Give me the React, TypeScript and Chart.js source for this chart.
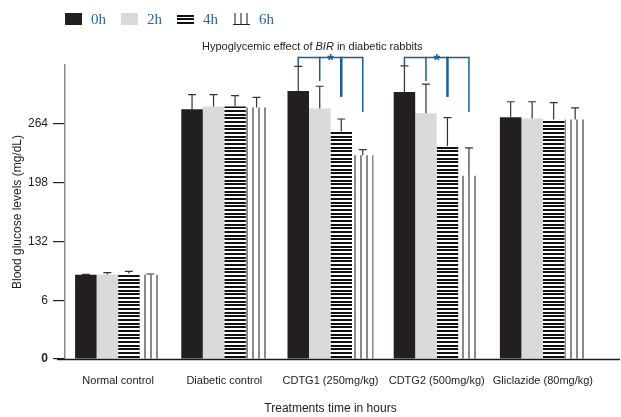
import React, { useEffect, useRef } from "react";
import { Chart, registerables } from "chart.js";

Chart.register(...registerables);

// Treatment groups along the x axis
const groups = [
  "Normal control",
  "Diabetic control",
  "CDTG1 (250mg/kg)",
  "CDTG2 (500mg/kg)",
  "Gliclazide (80mg/kg)",
];

// Sampling times (series)
const times = ["0h", "2h", "4h", "6h"];

// Mean blood glucose (mg/dL) per group, one array per sampling time
const glucose0h = [95, 282, 302.5, 301.5, 273];
const glucose2h = [95.5, 285, 283, 277.5, 271.5];
const glucose4h = [96.5, 285, 257, 240.5, 270.5];
const glucose6h = [95, 284, 230, 207, 270.5];

// Standard deviations for the error bars
const sd0h = [0.5, 16.5, 28, 29.5, 17.5];
const sd2h = [2, 13.5, 25, 33, 19];
const sd4h = [2.5, 12.5, 14, 32, 19];
const sd6h = [1, 11.5, 6.5, 31.5, 13];

// Y axis tick labels as printed on the axis
const yTickLabels = ["0", "6", "132", "198", "264"];

// Groups marked as significant (index into groups)
const significantGroups = [2, 3];
// Bracket top level and the level each drop line reaches, per time point
const bracketTop = 340.5;
const bracketDrops = [331, 314, 296, 279];

const titleParts = [
  { text: "Hypoglycemic effect of ", italic: false },
  { text: "BIR", italic: true },
  { text: " in diabetic rabbits", italic: false },
];

const SANS = "'Liberation Sans', Arial, Helvetica, sans-serif";
const SERIF = "'Liberation Serif', 'Times New Roman', serif";
const BLUE = "#1c5e99";

function makeHStripes(): CanvasPattern | string {
  const c = document.createElement("canvas");
  c.width = 4;
  c.height = 11;
  const g = c.getContext("2d");
  if (!g) return "#000";
  g.fillStyle = "#ffffff";
  g.fillRect(0, 0, 4, 11);
  g.fillStyle = "#111111";
  g.fillRect(0, 0, 4, 2);
  g.fillRect(0, 4, 4, 2);
  g.fillRect(0, 7, 4, 2);
  return g.createPattern(c, "repeat") || "#000";
}

function makeVLines(): CanvasPattern | string {
  const c = document.createElement("canvas");
  c.width = 6;
  c.height = 4;
  const g = c.getContext("2d");
  if (!g) return "#888";
  g.fillStyle = "#ffffff";
  g.fillRect(0, 0, 6, 4);
  g.fillStyle = "#8a8a8a";
  g.fillRect(0, 0, 2, 4);
  return g.createPattern(c, "repeat") || "#888";
}

export default function App() {
  const canvasRef = useRef<HTMLCanvasElement | null>(null);

  useEffect(() => {
    document.body.style.margin = "0";
    const canvas = canvasRef.current;
    if (!canvas) return;

    const fills = ["#231f20", "#d9dadb", makeHStripes(), makeVLines()];
    const values = [glucose0h, glucose2h, glucose4h, glucose6h];
    const errors = [sd0h, sd2h, sd4h, sd6h];

    const overlay = {
      id: "overlay",
      afterDatasetsDraw(chart: any) {
        const ctx = chart.ctx as CanvasRenderingContext2D;
        const y = chart.scales.y;
        const area = chart.chartArea;
        ctx.save();

        // x axis line
        ctx.strokeStyle = "#1a1a1a";
        ctx.lineWidth = 1.5;
        ctx.beginPath();
        ctx.moveTo(area.left - 8, area.bottom + 0.5);
        ctx.lineTo(chart.width - 1, area.bottom + 0.5);
        ctx.stroke();

        // error bars
        ctx.strokeStyle = "#333333";
        ctx.lineWidth = 1.2;
        values.forEach((vals, di) => {
          const meta = chart.getDatasetMeta(di);
          meta.data.forEach((bar: any, i: number) => {
            const top = y.getPixelForValue(vals[i] + errors[di][i]);
            ctx.beginPath();
            ctx.moveTo(bar.x, bar.y);
            ctx.lineTo(bar.x, top);
            ctx.moveTo(bar.x - 4, top);
            ctx.lineTo(bar.x + 4, top);
            ctx.stroke();
          });
        });

        // significance brackets
        ctx.strokeStyle = BLUE;
        ctx.fillStyle = BLUE;
        significantGroups.forEach((gi) => {
          const xs = times.map((_, di) => chart.getDatasetMeta(di).data[gi].x);
          const yTop = y.getPixelForValue(bracketTop);
          ctx.lineWidth = 1.5;
          ctx.beginPath();
          ctx.moveTo(xs[0], yTop);
          ctx.lineTo(xs[xs.length - 1], yTop);
          ctx.stroke();
          xs.forEach((x, di) => {
            ctx.lineWidth = di === 2 ? 2.5 : 1.5;
            ctx.beginPath();
            ctx.moveTo(x, yTop - 0.75);
            ctx.lineTo(x, y.getPixelForValue(bracketDrops[di]));
            ctx.stroke();
          });
          ctx.font = `bold 17px ${SANS}`;
          ctx.textAlign = "center";
          ctx.textBaseline = "alphabetic";
          ctx.fillText("*", (xs[1] + xs[2]) / 2, yTop + 9);
        });

        // title
        ctx.fillStyle = "#222222";
        ctx.textAlign = "left";
        ctx.textBaseline = "middle";
        let tx = 202;
        titleParts.forEach((p) => {
          ctx.font = `${p.italic ? "italic " : ""}11px ${SANS}`;
          ctx.fillText(p.text, tx, 46.5);
          tx += ctx.measureText(p.text).width;
        });

        // legend
        let lx = area.left;
        times.forEach((label, di) => {
          ctx.fillStyle = fills[di] as any;
          ctx.fillRect(lx, 13, 17, 12);
          if (di === 3) {
            ctx.fillStyle = "#222";
            ctx.fillRect(lx, 24, 17, 1);
          }
          ctx.font = `15px ${SERIF}`;
          ctx.fillStyle = "#2b669a";
          ctx.textBaseline = "middle";
          ctx.fillText(label, lx + 26, 20);
          lx += 26 + ctx.measureText(label).width + 15;
        });

        ctx.restore();
      },
    };

    const chart = new Chart(canvas, {
      type: "bar",
      data: {
        labels: groups,
        datasets: times.map((t, di) => ({
          label: t,
          data: values[di],
          backgroundColor: fills[di] as any,
          borderWidth: 0,
          barPercentage: 1,
          categoryPercentage: 0.81,
        })),
      },
      options: {
        animation: false,
        responsive: true,
        maintainAspectRatio: false,
        layout: { padding: { top: 65, right: 25, left: 0, bottom: 0 } },
        plugins: {
          legend: { display: false },
          title: { display: false },
          tooltip: { enabled: false },
        },
        scales: {
          x: {
            grid: { display: false, drawTicks: false },
            border: { display: false },
            ticks: {
              padding: 15,
              color: "#222",
              font: { family: SANS, size: 11 },
              maxRotation: 0,
              autoSkip: false,
            },
            title: {
              display: true,
              text: "Treatments time in hours",
              color: "#222",
              font: { family: SANS, size: 12 },
              padding: { top: 0, bottom: 1 },
            },
            afterFit(scale: any) {
              scale.height = 58;
            },
          },
          y: {
            min: 0,
            max: 332,
            grid: {
              drawOnChartArea: false,
              drawTicks: true,
              tickLength: 12,
              color: "#222",
              lineWidth: 1.2,
            },
            border: { display: true, color: "#8a8a8a", width: 1.5 },
            ticks: {
              stepSize: 66,
              padding: 5,
              color: "#222",
              font: (c: any) =>
                c.index === 0
                  ? { family: SANS, size: 12, weight: "bold" }
                  : { family: SANS, size: 12 },
              callback: (_v: any, i: number) => yTickLabels[i] ?? "",
            },
            afterBuildTicks(scale: any) {
              scale.ticks = scale.ticks.filter((t: any) => t.value < 300);
            },
            title: {
              display: true,
              text: "Blood glucose levels (mg/dL)",
              color: "#222",
              font: { family: SANS, size: 12 },
              padding: { top: 10, bottom: 0 },
            },
            afterFit(scale: any) {
              scale.width = 65;
            },
          },
        },
      },
      plugins: [overlay],
    });

    return () => chart.destroy();
  }, []);

  return (
    <div style={{ position: "relative", width: 621, height: 417 }}>
      <canvas ref={canvasRef} />
    </div>
  );
}
